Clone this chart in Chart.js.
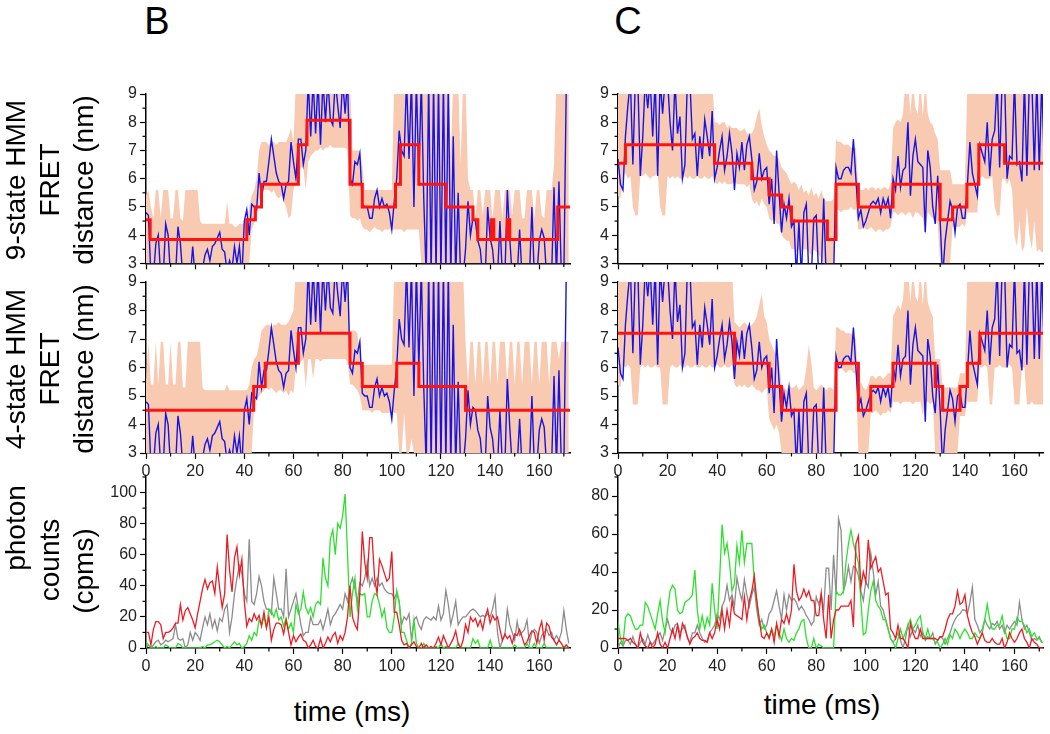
<!DOCTYPE html>
<html><head><meta charset="utf-8">
<script src="https://cdn.jsdelivr.net/npm/chart.js@4.4.1/dist/chart.umd.min.js"></script>
<style>
body{margin:0;background:#fff;width:1050px;height:734px;overflow:hidden;position:relative;font-family:"Liberation Sans",Arial,sans-serif;color:#000;}
canvas{position:absolute;}
.lbl{position:absolute;white-space:nowrap;transform:translate(-50%,-50%);}
.yt{position:absolute;font-size:28px;line-height:34px;text-align:center;width:240px;white-space:nowrap;transform:translate(-50%,-50%) rotate(-90deg);}
</style></head><body>
<canvas id="cL1" width="485" height="196" style="left:100px;top:80px"></canvas>
<canvas id="cR1" width="480" height="196" style="left:570px;top:80px"></canvas>
<canvas id="cL2" width="485" height="213" style="left:100px;top:268px"></canvas>
<canvas id="cR2" width="480" height="213" style="left:570px;top:268px"></canvas>
<canvas id="cL3" width="485" height="213" style="left:100px;top:463px"></canvas>
<canvas id="cR3" width="480" height="213" style="left:570px;top:463px"></canvas>
<div class="lbl" style="left:157px;top:21px;font-size:38px">B</div>
<div class="lbl" style="left:628px;top:21px;font-size:38px">C</div>
<div class="yt" style="left:50px;top:180px">9-state HMM<br>FRET<br>distance (nm)</div>
<div class="yt" style="left:50px;top:369px">4-state HMM<br>FRET<br>distance (nm)</div>
<div class="yt" style="left:16px;top:528px">photon</div>
<div class="yt" style="left:50px;top:560px">counts</div>
<div class="yt" style="left:84px;top:571px">(cpms)</div>
<div class="lbl" style="left:352px;top:712px;font-size:28px">time (ms)</div>
<div class="lbl" style="left:822px;top:705px;font-size:28px">time (ms)</div>
<script>
// ---------- DATA (1 ms bins, index = time in ms) ----------
const BIN_MS = 1;
const fretBlueB = [
 4.8,4.7,2.5,2.5,3.7,4.0,2.5,2.5,4.4,4.0,
 2.5,2.5,2.5,4.3,3.7,2.5,2.5,2.5,2.5,3.6,
 2.5,2.5,2.5,2.8,3.3,3.5,3.1,3.6,3.7,3.9,
 4.1,3.5,3.4,2.7,3.1,2.8,3.6,3.0,3.6,2.5,
 4.5,4.9,4.0,5.1,5.0,4.9,6.2,5.3,5.9,5.9,
 6.6,7.4,6.8,6.2,5.9,5.8,5.3,5.8,5.9,7.3,
 6.6,6.0,7.4,7.4,6.5,7.0,9.5,7.5,9.5,7.6,
 9.5,7.2,9.5,8.0,9.5,8.1,7.9,9.5,8.6,7.8,
 9.5,8.3,9.5,6.0,5.8,6.6,6.5,6.9,5.1,5.0,
 5.0,4.6,4.6,5.3,5.6,5.0,5.3,5.0,5.1,4.8,
 4.2,5.2,6.0,7.7,7.0,6.8,9.5,6.7,9.5,5.0,
 9.5,6.0,9.5,5.3,2.5,9.5,2.5,9.5,2.5,9.5,
 2.5,9.5,2.5,9.5,2.5,7.5,2.5,5.5,2.5,2.5,
 3.5,5.2,4.0,4.6,4.5,3.8,3.5,2.5,2.5,5.0,
 3.9,3.5,2.5,2.5,4.5,2.5,2.5,5.6,3.9,2.5,
 2.5,2.5,4.2,2.5,2.5,2.5,2.5,5.0,2.5,2.5,
 3.8,4.2,3.9,2.5,2.5,2.5,5.7,2.5,5.9,2.5,
 2.5,9.5,9.5];
const fretBlueC = [
 6.7,5.8,5.6,7.5,8.6,9.5,6.5,9.5,9.5,6.1,
 7.5,9.5,8.5,9.5,7.5,9.5,6.1,9.5,8.3,9.5,
 9.5,8.0,7.0,9.5,7.6,8.2,6.0,6.5,9.5,9.5,
 7.4,7.6,6.1,7.5,6.7,8.1,7.5,6.8,8.4,6.0,
 6.4,7.0,7.5,6.3,6.8,7.6,6.9,5.6,6.9,6.4,
 7.3,6.3,7.2,7.5,6.7,5.6,5.9,6.9,6.0,6.3,
 6.4,5.1,6.0,4.4,7.0,5.5,4.1,5.1,4.6,5.3,
 4.3,4.5,2.5,4.5,2.5,4.8,5.1,2.5,2.5,4.6,
 4.7,2.5,2.5,5.3,2.5,2.5,2.5,2.5,6.4,6.0,
 6.0,6.3,6.4,6.4,6.2,7.4,6.0,4.6,4.9,4.3,
 4.5,4.8,5.1,5.2,5.1,5.3,4.8,5.3,5.0,5.3,
 4.6,6.0,5.6,6.8,5.7,6.3,6.4,8.0,5.4,6.8,
 7.4,6.6,6.5,6.4,4.1,7.0,6.4,5.0,4.4,6.1,
 4.5,2.5,3.8,4.5,5.2,4.9,4.1,5.0,5.1,4.6,
 4.6,5.8,7.3,6.2,5.8,5.4,7.2,6.9,6.6,8.0,
 6.1,7.4,7.7,9.5,6.4,9.5,9.5,6.0,6.8,6.7,
 9.5,6.5,6.6,5.9,9.5,6.1,9.5,9.5,6.3,9.5,
 6.3,9.5,6.5];

// uncertainty bands (lower / upper)
const bandB9Lo = [
 3,3,3,3,3,3,3,3,3,3, 3,3,3,3,3,3,3,3,3,3, 3,3,3,3,3,3,3,3,3,3, 3,3,3,3,3,3,3,3,3,3,
 3,3,3,4.2,4.4,4.6,5.2,5.5,5.6,5.6,
 5.6,5.5,5.6,5.4,5.3,5.4,5.2,5.0,4.6,4.7,
 5.6,6.0,6.2,6.4,6.4,5.6,6.6,6.8,6.9,7.0,
 7.0,7.1,7.0,7.1,7.1,7.2,7.1,7.1,7.1,7.1,
 7.1,7.1,7.0,4.7,4.6,4.6,4.5,4.6,4.3,4.2,
 4.2,4.1,4.2,4.3,4.2,4.2,4.1,4.2,4.2,4.2,
 4.2,4.2,4.2,4.2,4.2,4.1,4.2,4.2,4.2,4.2,
 4.2,4.2,3,3,3,3,3,3,3,3,
 3,3,3,3,3,3,3,3,3,3, 3,3,3,3,3,3,3,3,3,3, 3,3,3,3,3,3,3,3,3,3,
 3,3,3,3,3,3,3,3,3,3, 3,3,3,3,3,3,3,3,3,3, 3,3,3];
const bandB9Hi = [
 5.4,5.6,5.0,4.6,5.6,5.6,4.6,5.6,5.6,5.6,
 4.6,4.6,5.6,5.6,4.6,4.5,5.6,5.6,5.6,5.6,
 5.6,5.6,4.5,4.4,4.4,4.4,4.4,4.4,4.4,4.4,
 4.4,4.4,4.4,5.2,4.4,4.4,4.3,4.3,4.4,4.4,
 4.4,4.5,5.0,5.4,5.6,6.0,7.0,7.3,7.3,7.3,
 7.2,7.3,7.3,7.2,7.3,7.3,7.3,7.3,7.5,7.8,
 7.3,9.5,9.5,9.5,9.5,9.5,9.5,9.5,9.5,9.5,
 9.5,9.5,9.5,9.5,9.5,9.5,9.5,9.5,9.5,9.5,
 9.5,9.5,9.5,9.5,7.0,7.0,7.0,7.0,6.5,5.6,
 5.6,5.6,5.6,5.6,5.6,5.6,5.6,5.6,5.6,5.6,
 5.6,9.5,9.5,9.5,9.5,9.5,9.5,9.5,9.5,9.5,
 9.5,9.5,9.5,9.5,9.5,9.5,9.5,9.5,9.5,9.5,
 9.5,9.5,9.5,9.5,6.8,9.5,9.5,9.5,6.5,9.5,
 9.5,6.0,5.6,5.6,4.6,5.6,5.6,4.7,5.6,5.6,
 5.6,4.6,5.6,5.6,5.6,4.6,5.6,5.6,5.6,4.7,
 5.6,5.6,5.6,4.6,4.6,5.6,5.6,5.6,4.6,5.6,
 5.6,4.7,4.6,5.6,5.6,5.6,6.5,9.5,9.5,9.5,
 9.5,9.5,9.5];
const bandB4Lo = [
 3,3,3,3,3,3,3,3,3,3, 3,3,3,3,3,3,3,3,3,3, 3,3,3,3,3,3,3,3,3,3, 3,3,3,3,3,3,3,3,3,3,
 3,3,3,3,4.6,4.9,5.0,5.1,5.2,5.3,
 5.2,5.3,5.2,5.1,5.2,5.2,5.1,5.2,5.0,5.2,
 5.1,6.0,6.2,6.2,6.3,5.3,6.3,6.3,5.6,6.3,
 6.3,6.2,6.3,6.3,6.3,6.3,6.3,6.3,6.3,6.3,
 6.3,6.3,6.2,5.4,5.4,5.3,5.2,5.0,4.5,4.5,
 4.5,4.5,4.4,4.5,4.5,4.5,4.4,4.4,4.4,4.4,
 4.5,4.4,4.4,3,3,4.4,3,3,3.5,3,
 3,3,3,3,3,3,3,3,3,3, 3,3,3,3,3,3,3,3,3,3, 3,3,3,3,3,3,3,3,3,3,
 3,3,3,3,3,3,3,3,3,3, 3,3,3,3,3,3,3,3,3,3, 3,3,3,3,3,3,3,3,3,3, 3,3,3];
const bandB4Hi = [
 5.5,6.9,5.4,5.4,6.9,5.4,6.9,6.9,5.4,5.4,
 6.9,5.4,5.4,6.9,6.9,5.3,5.3,6.9,6.9,6.9,
 6.9,6.9,6.9,5.3,5.2,5.2,5.2,5.2,5.2,5.2,
 5.2,5.2,5.2,5.4,5.2,5.2,5.2,5.2,5.2,5.2,
 5.2,5.2,5.4,6.0,6.3,6.4,6.8,7.3,7.4,7.5,
 7.5,7.4,7.5,7.5,7.6,7.5,7.5,7.5,7.6,7.8,
 8.0,9.5,9.5,9.5,9.5,9.5,9.5,9.5,9.5,9.5,
 9.5,9.5,9.5,9.5,9.5,9.5,9.5,9.5,9.5,9.5,
 9.5,9.5,9.5,7.3,7.3,7.3,7.2,6.5,6.1,6.1,
 6.1,6.1,6.1,6.1,6.1,6.1,6.1,6.1,6.1,6.1,
 6.1,9.5,9.5,9.5,9.5,9.5,9.5,9.5,9.5,9.5,
 9.5,9.5,9.5,9.5,9.5,9.5,9.5,9.5,9.5,9.5,
 9.5,9.5,9.5,9.5,9.5,9.5,9.5,9.5,9.5,9.5,
 6.9,5.4,6.9,6.9,5.4,6.9,6.9,5.4,6.9,6.9,
 5.4,6.9,6.9,5.4,6.9,6.9,6.9,5.4,6.9,6.9,
 5.4,6.9,6.9,5.4,6.9,6.9,6.9,5.4,6.9,6.9,
 5.4,6.9,6.9,6.9,5.4,6.9,6.9,6.9,6.3,6.9,
 6.9,6.9,6.9];
const bandC9Lo = [
 5.4,5.3,6.1,6.2,6.0,6.1,5.0,4.7,4.7,6.1,
 6.1,6.2,6.1,6.0,6.1,6.1,6.2,5.0,4.7,4.7,
 6.1,6.0,6.1,6.0,6.1,6.0,6.0,6.1,6.0,6.1,
 6.0,6.0,6.1,6.0,6.0,6.1,6.0,6.0,6.1,5.9,
 5.8,5.9,5.8,5.9,5.8,5.8,5.8,5.9,5.8,5.8,
 5.8,5.8,5.7,5.8,5.3,5.1,5.2,5.0,5.3,5.1,
 5.0,4.6,4.5,4.6,4.4,4.4,4.0,3.9,3.8,3.8,
 3.5,3.5,3.4,3.5,3.4,3.5,3.5,3.4,3.3,3.5,
 3.4,3.3,3.2,3.0,3.0,3.0,3.0,3.0,4.9,4.9,
 4.8,4.9,4.9,4.9,5.0,4.9,4.9,4.2,4.2,4.3,
 4.2,4.2,4.3,4.2,4.1,4.2,4.2,4.1,4.2,4.2,
 4.3,4.8,4.8,4.7,4.8,4.8,4.7,4.8,4.8,4.6,
 4.8,4.8,4.7,4.6,4.0,4.8,4.7,4.6,4.5,4.4,
 3,3,3,3,3,4.3,4.3,4.3,4.3,4.4,
 4.3,4.8,4.8,4.8,4.8,4.8,6.0,6.1,6.0,6.0,
 6.0,6.1,5.0,4.7,4.7,6.0,6.0,5.8,6.0,5.6,
 4.0,3.6,4.5,3.4,3.6,5.0,4.0,3.5,4.5,3.4,
 3.5,3.4,3.4];
const bandC9Hi = [
 9.5,9.5,9.5,9.5,9.5,9.5,9.5,9.5,9.5,9.5,
 9.5,9.5,9.5,9.5,9.5,9.5,9.5,9.5,9.5,9.5,
 9.5,9.5,9.5,9.5,9.5,9.5,9.5,9.5,9.5,9.5,
 9.5,9.5,9.5,9.5,9.5,9.5,9.5,9.5,9.5,8.0,
 8.0,7.9,8.0,8.0,7.8,7.9,7.8,7.8,7.8,7.7,
 7.7,7.8,7.6,7.6,7.6,7.8,8.2,8.5,7.9,7.5,
 7.2,7.0,6.9,6.8,6.8,6.7,6.4,6.3,6.2,6.0,
 5.8,5.9,5.8,5.6,5.8,5.5,5.6,5.4,5.7,5.4,
 5.5,5.3,5.6,5.3,5.2,5.2,5.2,5.3,7.4,7.3,
 7.3,7.2,7.2,7.2,7.1,7.1,7.1,5.7,5.6,5.6,
 5.7,5.6,5.7,5.7,5.6,5.7,5.6,5.7,5.7,5.6,
 5.8,7.8,8.0,8.1,8.0,8.3,9.5,9.5,8.3,9.5,
 8.5,8.3,9.5,8.2,9.5,8.3,8.0,7.9,7.6,7.4,
 6.3,6.3,6.3,6.3,6.3,5.8,5.8,5.8,5.8,5.8,
 5.8,9.5,9.5,9.5,9.5,9.5,9.5,9.5,9.5,9.5,
 9.5,9.5,9.5,9.5,9.5,9.5,9.5,9.5,9.5,9.5,
 9.5,9.5,9.5,9.5,9.5,9.5,9.5,9.5,9.5,9.5,
 9.5,9.5,9.5];
const bandC4Lo = [
 5.4,5.3,6.1,6.0,6.1,6.0,4.7,4.7,4.7,6.0,
 6.1,6.0,6.1,6.0,6.0,6.1,6.0,6.0,4.7,4.7,
 4.7,6.0,6.1,6.0,6.0,6.1,6.0,6.0,6.1,6.0,
 6.0,6.1,6.0,6.0,6.1,6.0,6.0,6.1,6.0,6.0,
 6.1,6.0,6.0,6.1,6.0,6.0,6.1,5.4,5.3,5.4,
 5.3,5.4,5.3,5.3,5.4,5.3,5.2,5.2,5.1,5.2,
 5.3,4.2,4.0,3.8,4.0,3.7,3,3,3,3,
 3,3,3,3,3,3,3,3,3,3,
 3,3,3,3,3,3,3,3,5.9,5.9,
 6.0,5.9,5.8,5.9,5.9,5.8,5.8,3,3,3,
 3,3,4.4,4.4,4.5,4.4,4.3,4.4,4.4,4.5,
 4.4,4.8,4.8,4.8,4.7,4.8,4.8,4.8,4.8,4.7,
 4.8,4.8,4.8,4.3,4.8,4.8,4.7,4.8,3,3,
 3,3,3,3,3,3,3,3,4.3,4.3,
 4.3,4.8,4.8,4.8,4.8,4.8,6.0,6.0,6.1,6.0,
 4.7,4.7,6.0,6.0,6.1,6.0,6.0,6.0,6.1,6.0,
 4.7,4.7,4.7,6.0,6.0,4.7,4.7,4.8,4.7,4.7,
 4.7,4.7,4.7];
const bandC4Hi = [
 9.5,9.5,9.5,9.5,9.5,9.5,9.5,9.5,9.5,9.5,
 9.5,9.5,9.5,9.5,9.5,9.5,9.5,9.5,9.5,9.5,
 9.5,9.5,9.5,9.5,9.5,9.5,9.5,9.5,9.5,9.5,
 9.5,9.5,9.5,9.5,9.5,9.5,9.5,9.5,9.5,9.5,
 9.5,9.5,9.5,9.5,9.5,9.5,9.5,7.6,7.5,7.4,
 7.5,7.6,7.5,7.4,7.5,7.6,7.8,8.2,8.6,7.8,
 7.6,7.0,6.8,6.6,6.4,6.2,5.4,5.3,5.2,5.4,
 5.3,5.3,5.4,5.2,5.3,5.4,6.0,6.8,6.2,5.3,
 5.2,5.3,5.4,5.3,5.2,5.3,5.3,5.2,7.4,7.4,
 7.3,7.3,7.2,7.2,7.2,7.1,7.0,5.2,5.5,5.3,
 5.2,5.4,5.7,5.7,5.6,5.7,5.7,5.6,5.7,5.8,
 5.8,7.8,8.0,8.2,8.0,8.4,9.5,9.5,8.3,9.5,
 8.5,8.3,9.5,8.2,9.5,8.3,8.0,7.8,6.3,6.3,
 6.3,5.3,5.3,5.3,5.3,5.3,5.3,5.3,5.8,5.8,
 5.8,9.5,9.5,9.5,9.5,9.5,9.5,9.5,9.5,9.5,
 9.5,9.5,9.5,9.5,9.5,9.5,9.5,9.5,9.5,9.5,
 9.5,9.5,9.5,9.5,9.5,9.5,9.5,9.5,9.5,9.5,
 9.5,9.5,9.5];

// HMM state paths: start time of each state (ms) and level (nm)
const stepsB9T = [0,1.7,41,44.5,47,62,65.5,83,88,101.5,103.5,111,122,133,135,140.5,141.5,147,148,167.5];
const stepsB9V = [4.55,3.85,4.55,5.0,5.8,7.2,8.07,5.8,5.0,5.8,7.2,5.8,5.0,4.55,3.85,4.55,3.85,4.55,3.85,5.0];
const stepsB4T = [0,43.8,48.5,62,83,88,102,111,130];
const stepsB4V = [4.5,5.33,6.15,7.2,6.15,5.33,6.15,5.33,4.5];
const stepsC9T = [0,3,39,54,61,66,70,84.5,88,97,111,130,135,140.8,145.6,156];
const stepsC9V = [6.55,7.2,6.55,6.0,5.42,5.0,4.5,3.85,5.8,5.0,5.8,4.55,5.0,5.8,7.2,6.55];
const stepsC4T = [0,47,61,66,88,97,102,111,128,131,138,141,146];
const stepsC4V = [7.2,6.15,5.33,4.5,6.15,4.5,5.33,6.15,5.33,4.5,5.33,6.15,7.2];

// photon counts
const photRedB = [
 10,10,2,12,17,17,15,6,10,10, 11,13,16,16,28,18,24,26,22,18,
 13,22,30,38,44,38,42,43,35,52, 38,26,35,73,50,36,58,65,47,57,
 30,14,19,17,22,18,21,14,23,13, 20,5,12,16,16,15,9,18,10,2,
 8,4,7,9,5,4,0,2,5,1, 0,6,0,3,7,4,8,10,3,8,
 5,10,20,40,20,15,12,35,75,55, 45,71,71,45,35,57,53,48,43,45,
 62,23,23,15,5,2,3,0,2,4, 1,0,3,0,2,0,1,0,3,7,
 2,8,4,0,3,6,11,3,0,5, 15,10,20,17,19,14,18,12,20,25,
 16,21,18,20,12,5,9,6,8,3, 9,8,12,7,2,4,8,11,10,3,
 12,17,5,16,14,7,5,2,5,3, 0,2,0];
const photGrayB = [
 0,2,0,2,4,5,2,3,5,4, 5,6,15,6,5,6,0,2,10,5,
 10,8,5,13,20,15,22,13,18,11, 19,17,25,28,10,20,35,45,53,48,
 35,30,70,30,28,35,46,40,30,25, 25,22,45,35,25,25,20,51,20,25,
 30,35,25,15,8,10,10,20,15,15, 15,18,12,18,25,15,20,22,25,28,
 25,35,30,40,45,38,30,42,40,45, 55,40,45,40,45,40,42,38,36,35,
 35,32,35,30,15,20,18,22,5,18, 20,15,12,18,20,19,18,20,18,27,
 18,22,37,28,15,22,30,15,18,20, 20,22,24,25,24,22,20,21,20,22,
 20,25,33,10,0,5,8,25,15,10, 5,17,8,10,12,18,3,10,12,10,
 3,8,10,12,8,10,5,8,5,10, 24,12,3];
const photGreenB = [
 4,2,0,0,1,0,0,0,2,1, 0,0,0,3,2,0,0,0,0,0,
 0,0,0,1,0,2,2,3,4,5, 4,2,0,1,0,2,4,2,3,0,
 1,3,8,5,10,8,18,15,20,13, 25,24,20,25,18,20,14,19,12,16,
 10,28,22,25,36,26,22,26,20,28, 30,28,58,45,40,70,76,60,80,77,
 85,99,60,20,35,45,25,35,34,35, 20,20,30,35,34,28,20,25,13,10,
 10,20,37,30,10,10,5,0,3,18, 3,0,0,3,0,0,0,0,1,0,
 3,0,1,0,0,0,0,3,0,0, 0,0,0,6,3,5,0,0,0,0,
 5,0,0,0,0,0,0,0,0,0, 2,0,0,0,0,3,0,0,3,0,
 0,0,3,0,0,0,0,0,0,0, 1,0,0];
const photRedC = [
 5,5,5,5,4,5,3,2,0,8, 3,1,0,3,0,2,8,2,0,3,
 0,5,10,5,12,5,13,10,6,2, 5,6,8,5,4,4,3,8,5,8,
 15,10,20,10,20,12,25,18,17,16, 15,27,15,25,30,38,25,15,6,5,
 8,5,10,3,13,6,15,13,18,13, 20,44,30,25,27,31,27,30,25,25,
 17,17,29,15,5,28,5,15,20,20, 22,22,22,22,25,11,55,59,32,40,
 35,57,42,45,48,40,42,35,28,29, 10,8,5,12,5,5,3,0,13,8,
 5,5,10,5,5,5,5,5,5,4, 6,6,10,15,18,18,22,30,23,24,
 28,17,12,8,6,2,5,8,4,3, 3,5,3,2,2,5,0,3,8,5,
 3,5,8,10,5,3,0,5,3,2, 0,0,0];
const photGrayC = [
 0,3,1,4,4,2,6,2,0,3, 5,2,7,3,2,4,6,8,4,10,
 15,10,8,12,13,8,10,12,5,3, 8,8,12,8,5,3,4,8,10,12,
 18,15,22,25,33,25,28,22,37,30, 25,36,28,22,28,32,20,12,15,10,
 12,18,20,25,30,22,15,28,20,28, 25,26,24,20,22,20,17,15,12,14,
 27,23,28,20,42,42,20,49,28,68, 62,30,35,43,35,43,42,38,30,25,
 35,32,50,40,28,35,22,20,15,10, 5,3,5,8,4,0,5,12,6,10,
 8,12,6,8,4,6,5,8,2,4, 6,5,2,5,8,12,15,17,18,20,
 20,18,24,32,15,12,8,10,15,12, 10,13,12,14,10,12,8,12,10,12,
 14,12,24,15,10,12,8,4,5,4, 6,3,3];
const photGreenC = [
 14,5,2,16,18,17,13,10,10,12, 12,24,22,18,14,10,18,25,14,8,
 20,30,33,31,20,18,19,24,25,26, 28,41,20,10,17,10,16,12,34,20,
 10,36,65,50,55,45,30,34,54,45, 62,45,55,55,55,35,25,15,10,12,
 8,6,10,6,12,8,4,10,5,3, 5,4,8,10,14,15,5,0,0,5,
 0,2,1,0,0,0,0,0,30,28, 28,30,45,55,62,55,50,45,25,7,
 8,20,30,35,25,22,20,15,15,10, 5,3,0,5,10,5,8,12,15,10,
 12,15,17,8,5,10,5,5,3,3, 0,2,5,2,7,5,10,8,5,8,
 10,8,5,5,8,6,5,8,15,23, 15,10,10,12,12,17,10,5,5,10,
 10,16,14,14,12,8,10,6,8,5, 5,3,3];

// axis ranges / ticks
const xMaxB = 172.5, xMaxC = 171.5;
const fretMin = 3, fretMax = 9;
const photMaxB = 110, photMaxC = 90;

// ---------- RENDERING ----------
Chart.defaults.font.family = '"Liberation Sans", Arial, sans-serif';
Chart.defaults.font.size = 16;
Chart.defaults.color = '#222';

const series = vals => vals.map((v, i) => ({x: i * BIN_MS, y: v}));
const steps = (T, V, end) => T.map((t, i) => ({x: t, y: V[i]})).concat([{x: end, y: V[V.length - 1]}]);

const minorTicks = {
  id: 'minorTicks',
  afterDraw(chart, args, opts) {
    const ctx = chart.ctx;
    ctx.save(); ctx.strokeStyle = '#000'; ctx.lineWidth = 1.2;
    const draw = (s, step, horiz) => {
      const major = s.options.ticks.stepSize;
      for (let k = Math.ceil(s.min / step); k * step <= s.max + 1e-9; k++) {
        const v = k * step;
        const r = v / major;
        if (Math.abs(r - Math.round(r)) < 1e-6) continue;
        const p = s.getPixelForValue(v);
        ctx.beginPath();
        if (horiz) { ctx.moveTo(p, s.top); ctx.lineTo(p, s.top + 3.5); }
        else { ctx.moveTo(s.right - 3.5, p); ctx.lineTo(s.right, p); }
        ctx.stroke();
      }
    };
    draw(chart.scales.x, opts.x, true);
    draw(chart.scales.y, opts.y, false);
    ctx.restore();
  }
};

function axes(xMax, yMin, yMax, yStep, showX, yW, xH) {
  const grid = {drawOnChartArea: false, drawTicks: true, tickLength: 6, tickColor: '#000', tickWidth: 1.2};
  const border = {display: true, color: '#000', width: 1.5};
  return {
    x: {type: 'linear', min: 0, max: xMax, afterFit: s => { s.height = xH; },
        ticks: {display: showX, stepSize: 20, includeBounds: false, padding: 3, maxRotation: 0, autoSkip: false, color: '#222'},
        grid, border},
    y: {type: 'linear', min: yMin, max: yMax, afterFit: s => { s.width = yW; },
        ticks: {stepSize: yStep, includeBounds: false, padding: 3, autoSkip: false, color: '#222'},
        grid, border}
  };
}

function commonOpts(scales, padR, padB, minor) {
  return {
    responsive: false, animation: false, devicePixelRatio: 1,
    layout: {padding: {left: 0, right: padR, top: 14, bottom: padB}},
    plugins: {legend: {display: false}, tooltip: {enabled: false}, minorTicks: minor},
    scales,
    elements: {point: {radius: 0}, line: {tension: 0}}
  };
}

function fretChart(id, blue, lo, hi, T, V, xMax, showX, yW, padR, xH, padB) {
  new Chart(document.getElementById(id), {
    type: 'line',
    data: {datasets: [
      {data: series(lo), borderWidth: 0, borderColor: 'rgba(0,0,0,0)', fill: false, order: 3},
      {data: series(hi), borderWidth: 0, borderColor: 'rgba(0,0,0,0)', backgroundColor: 'rgb(249,202,178)', fill: '-1', order: 2},
      {data: series(blue), borderColor: '#1414e6', borderWidth: 1.4, fill: false, order: 1},
      {data: steps(T, V, xMax), borderColor: '#ff1212', borderWidth: 3, stepped: 'before', borderJoinStyle: 'miter', fill: false, order: 0}
    ]},
    options: commonOpts(axes(xMax, fretMin, fretMax, 1, showX, yW, xH), padR, padB, {x: 10, y: 0.5}),
    plugins: [minorTicks]
  });
}

function photChart(id, red, gray, green, xMax, yMax, yW, padR) {
  new Chart(document.getElementById(id), {
    type: 'line',
    data: {datasets: [
      {data: series(red), borderColor: '#ec1c24', borderWidth: 1.3, fill: false, order: 0},
      {data: series(green), borderColor: '#2ee02e', borderWidth: 1.3, fill: false, order: 1},
      {data: series(gray), borderColor: '#8c8c8c', borderWidth: 1.3, fill: false, order: 2}
    ]},
    options: commonOpts(axes(xMax, 0, yMax, 20, true, yW, 28), padR, 0, {x: 10, y: 10}),
    plugins: [minorTicks]
  });
}

fretChart('cL1', fretBlueB, bandB9Lo, bandB9Hi, stepsB9T, stepsB9V, xMaxB, false, 46, 15, 10, 2);
fretChart('cR1', fretBlueC, bandC9Lo, bandC9Hi, stepsC9T, stepsC9V, xMaxC, false, 48, 7, 10, 2);
fretChart('cL2', fretBlueB, bandB4Lo, bandB4Hi, stepsB4T, stepsB4V, xMaxB, true, 46, 15, 28, 0);
fretChart('cR2', fretBlueC, bandC4Lo, bandC4Hi, stepsC4T, stepsC4V, xMaxC, true, 48, 7, 28, 0);
photChart('cL3', photRedB, photGrayB, photGreenB, xMaxB, photMaxB, 46, 15);
photChart('cR3', photRedC, photGrayC, photGreenC, xMaxC, photMaxC, 48, 7);
</script>
</body></html>
